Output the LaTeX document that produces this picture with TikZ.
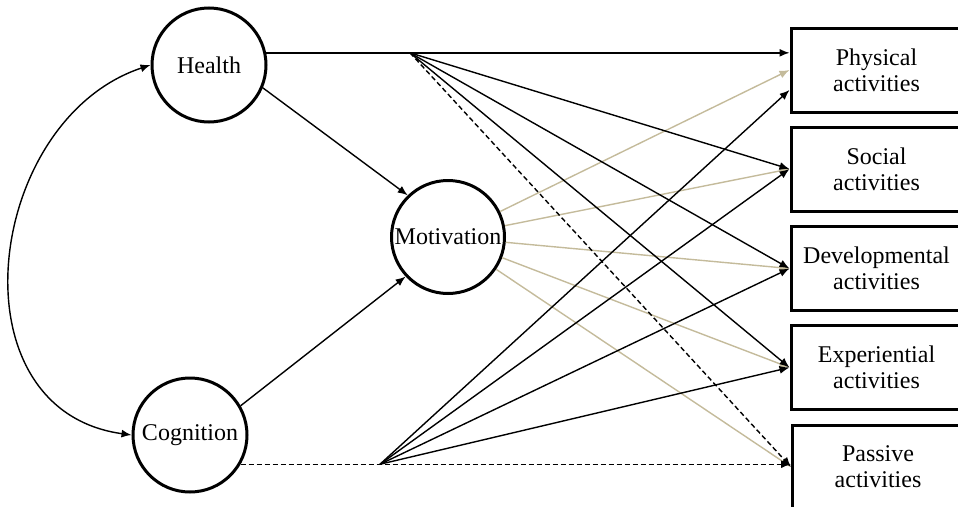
\documentclass[tikz,border=0pt]{standalone}
\usepackage{fontspec}
\setmainfont{Liberation Serif}
\usetikzlibrary{arrows.meta,calc}
\definecolor{tanline}{RGB}{196,187,155}
\begin{document}
\begin{tikzpicture}[x=1pt,y=-1pt,
  >={Latex[length=10pt,width=8pt]},
  latent/.style={circle,draw,line width=3pt,minimum size=114pt,inner sep=0pt,font=\fontsize{24}{26}\selectfont},
  obs/.style={rectangle,draw,line width=3pt,minimum width=171pt,minimum height=84pt,inner sep=0pt,align=center,font=\fontsize{24}{26}\selectfont},
  conn/.style={line width=1.4pt,->},
  tanconn/.style={conn,draw=tanline},
  dashconn/.style={conn,dash pattern=on 5pt off 3pt}]
\useasboundingbox (0,0) rectangle (958,506);
\clip (0,0) rectangle (958,506);
\node[latent] (health) at (209,65) {Health};
\node[latent,minimum size=113pt] (mot) at (448,237) {Motivation};
\node[latent] (cog) at (190,435) {Cognition};
\node[obs] (phys) at (876.5,70) {Physical\\activities};
\node[obs] (soc) at (876.5,169) {Social\\activities};
\node[obs] (dev) at (876.5,268.5) {Developmental\\activities};
\node[obs] (exp) at (876.5,367.5) {Experiential\\activities};
\node[obs] (pas) at (878,467) {Passive\\activities};
% motivation paths
\foreach \t in {phys,soc,dev,exp,pas} \draw[tanconn] (mot) -- (\t.west);
% health paths
\coordinate (hx) at (410,0);
\coordinate (h1) at (health.12 -| hx);
\draw[conn] (health.12) -- (health.12 -| phys.west);
\foreach \t in {soc,dev,exp} \draw[conn] (h1) -- (\t.west);
\draw[dashconn] (h1) -- (pas.west);
% cognition paths
\coordinate (cx) at (380,0);
\coordinate (c1) at (cog.-30 -| cx);
\draw[dashconn] (cog.-30) -- (cog.-30 -| pas.west);
\draw[conn] (c1) -- ($(phys.west)+(0,20)$);
\foreach \t in {soc,dev,exp} \draw[conn] (c1) -- (\t.west);
% to motivation
\draw[conn] (health.-23) -- (mot.134);
\draw[conn] (cog.30) -- (mot.223);
% covariance
\draw[line width=1.4pt,<->] (health.west) .. controls (-15,120) and (-50,410) .. (cog.west);
\end{tikzpicture}
\end{document}
